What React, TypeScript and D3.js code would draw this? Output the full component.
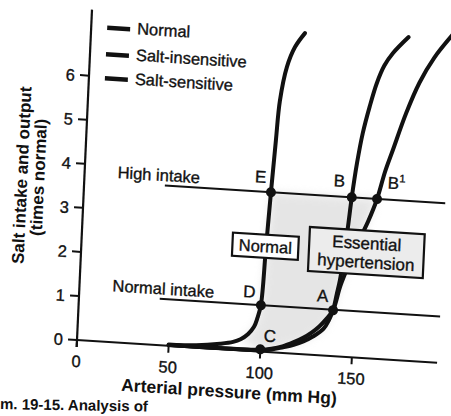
import React from "react";
import * as d3 from "d3";

const W = 451;
const H = 416;

// ---------- data ----------
const pressureTicks = [0, 50, 100, 150];
const saltTicks = [0, 1, 2, 3, 4, 5, 6];
const legendLabels = ["Normal", "Salt-insensitive", "Salt-sensitive"];

const normalPressure = [50, 65, 78, 85, 89, 93, 96, 97.6, 99.2, 100.5, 101.9, 103.3, 104.5, 107.5, 111.4, 116.5];
const normalSalt = [0.03, 0.05, 0.12, 0.18, 0.25, 0.38, 0.55, 0.75, 1.05, 2.3, 3.62, 4.8, 5.7, 6.48, 6.94, 7.27];

const insensitivePressure = [50, 90, 100, 106, 112.3, 118, 123.2, 128.5, 133.8, 136.5, 138.6, 140.2, 141.6, 143.3, 144.7, 146, 148, 150.4, 153.5, 156.8, 160.5, 164.8, 173];
const insensitiveSalt = [0.02, 0.02, 0.03, 0.06, 0.13, 0.2, 0.29, 0.42, 0.6, 0.8, 1.04, 1.4, 1.73, 2.35, 2.97, 3.62, 4.4, 5.09, 5.7, 6.24, 6.65, 6.94, 7.33];

const sensitivePressure = [50, 95, 100, 106, 112, 118, 123, 127.5, 131.5, 135, 138.6, 142, 147, 151.5, 155.5, 159.8, 163.5, 167.2, 173.5, 180, 187.5, 197];
const sensitiveSalt = [0.02, 0.03, 0.04, 0.08, 0.15, 0.26, 0.37, 0.5, 0.65, 0.82, 1.04, 1.6, 2.2, 2.7, 3.1, 3.62, 4.25, 4.75, 5.6, 6.31, 6.9, 7.45];

const intakeLabels = ["High intake", "Normal intake"];
const intakeLevels = [3.62, 1.05];
const intakeRange = [44, 197];

const pointLabels = ["E", "D", "C", "A", "B", "B"];
const pointPressure = [101.9, 99.2, 100, 138.6, 146, 159.8];
const pointSalt = [3.62, 1.05, 0.05, 1.04, 3.62, 3.62];

const boxLabels = [["Normal"], ["Essential", "hypertension"]];
const boxPressure = [100.2, 155.3];
const boxSalt = [2.39, 2.39];

const xTitle = "Arterial pressure (mm Hg)";
const yTitle = ["Salt intake and output", "(times normal)"];
const caption = "m. 19-15. Analysis of";

// ---------- layout ----------
const FONT = "'Liberation Sans', Arial, Helvetica, sans-serif";
const INK = "#111";
const TXT = { stroke: INK, strokeWidth: 0.35 };

const x = d3.scaleLinear().domain([0, 200]).range([0, 367.2]);
const y = d3.scaleLinear().domain([0, 7.5]).range([0, -330.75]);

const zip = (a: number[], b: number[]) => a.map((v, i) => [v, b[i]] as [number, number]);

const curveLine = d3
  .line<[number, number]>()
  .x((d) => x(d[0]))
  .y((d) => y(d[1]))
  .curve(d3.curveCatmullRom.alpha(0.5));

const polyLine = d3
  .line<[number, number]>()
  .x((d) => x(d[0]))
  .y((d) => y(d[1]))
  .curve(d3.curveLinear);

const normalPts = zip(normalPressure, normalSalt);
const insensitivePts = zip(insensitivePressure, insensitiveSalt);
const sensitivePts = zip(sensitivePressure, sensitiveSalt);

const shadePts: [number, number][] = [
  ...normalPts.filter((d) => d[0] >= 89 && d[1] <= 3.62),
  ...sensitivePts.filter((d) => d[1] >= 1.04 && d[1] <= 3.62).reverse(),
  ...insensitivePts.filter((d) => d[1] < 1.04 && d[0] >= 100).reverse(),
];

// label offsets (px, local frame) for each lettered point
const labelOffsets = [
  [-11, -9, "middle"],
  [-12, -7, "middle"],
  [9, -8, "middle"],
  [-11, -8, "middle"],
  [-13, -10, "middle"],
  [10, -11, "start"],
];

const boxSizes = [
  [66, 23],
  [115, 44],
];
const boxFills = ["#ffffff", "#ececec"];

export default function App() {
  const curves = [normalPts, insensitivePts, sensitivePts];
  const legendRows = [-313.5, -287, -263];

  return (
    <div style={{ position: "absolute", left: 0, top: 0 }}>
      <svg width={W} height={H} viewBox={`0 0 ${W} ${H}`} style={{ display: "block", background: "#fff" }}>
        <defs>
          <filter id="soft" x="-20%" y="-20%" width="140%" height="140%">
            <feGaussianBlur stdDeviation="4" />
          </filter>
        </defs>
        <g transform="matrix(0.99803,0.06279,-0.04536,0.99897,77,340)" fontFamily={FONT} fill={INK}>
          {/* shading */}
          <path d={polyLine(shadePts) + "Z"} fill="#cccccc" opacity={0.5} filter="url(#soft)" />

          {/* axes */}
          <line x1={x(0)} x2={x(196.5)} y1={0} y2={0} stroke={INK} strokeWidth={2} />
          <line x1={0} x2={0} y1={7} y2={y(7.5)} stroke={INK} strokeWidth={2.2} />
          {pressureTicks.map((t) => (
            <g key={"xt" + t}>
              <line x1={x(t)} x2={x(t)} y1={0} y2={7} stroke={INK} strokeWidth={2} />
              <text x={x(t)} y={27} textAnchor="middle" fontSize={16.5} {...TXT}>
                {t}
              </text>
            </g>
          ))}
          {saltTicks.map((t) => (
            <g key={"yt" + t}>
              <line x1={-9} x2={0} y1={y(t)} y2={y(t)} stroke={INK} strokeWidth={2} />
              <text x={-14} y={y(t) + 6} textAnchor="end" fontSize={16.5} {...TXT}>
                {t}
              </text>
            </g>
          ))}

          {/* axis titles */}
          <text x={x(84)} y={48} textAnchor="middle" fontSize={17.5} fontWeight="bold">
            {xTitle}
          </text>
          {yTitle.map((s, i) => (
            <text
              key={s}
              transform={`translate(${i === 0 ? -57 : -40},${-161 + i}) rotate(-90)`}
              textAnchor="middle"
              fontSize={17}
              fontWeight="bold"
            >
              {s}
            </text>
          ))}

          {/* intake lines */}
          {intakeLevels.map((lv, i) => (
            <g key={"in" + i}>
              <line x1={x(intakeRange[0])} x2={x(intakeRange[1])} y1={y(lv)} y2={y(lv)} stroke={INK} strokeWidth={2} />
              <text x={33} y={y(lv) - 4.5} fontSize={16.5} {...TXT}>
                {intakeLabels[i]}
              </text>
            </g>
          ))}

          {/* curves */}
          {curves.map((pts, i) => (
            <path key={"c" + i} d={curveLine(pts) || ""} fill="none" stroke={INK} strokeWidth={4} strokeLinecap="round" />
          ))}

          {/* boxes */}
          {boxLabels.map((lines, i) => {
            const cx = x(boxPressure[i]);
            const cy = y(boxSalt[i]);
            const [bw, bh] = boxSizes[i];
            return (
              <g key={"b" + i}>
                <rect x={cx - bw / 2} y={cy - bh / 2} width={bw} height={bh} fill={boxFills[i]} stroke={INK} strokeWidth={2.2} />
                {lines.map((s, j) => (
                  <text
                    key={s}
                    x={cx}
                    y={lines.length === 1 ? cy + 6 : cy + (j === 0 ? -3.5 : 15.5)}
                    textAnchor="middle"
                    fontSize={lines.length === 1 ? 16.5 : 17}
                    {...TXT}
                  >
                    {s}
                  </text>
                ))}
              </g>
            );
          })}

          {/* points */}
          {pointLabels.map((lab, i) => {
            const px = x(pointPressure[i]);
            const py = y(pointSalt[i]);
            const [dx, dy, anchor] = labelOffsets[i] as [number, number, string];
            return (
              <g key={"p" + i}>
                <circle cx={px} cy={py} r={5} fill={INK} />
                <text x={px + dx} y={py + dy} textAnchor={anchor as any} fontSize={17} {...TXT}>
                  {lab}
                  {i === 5 ? (
                    <tspan fontSize={11} dy={-7}>
                      1
                    </tspan>
                  ) : null}
                </text>
              </g>
            );
          })}

          {/* legend */}
          {legendLabels.map((s, i) => (
            <g key={"lg" + i}>
              <line x1={16} x2={39} y1={legendRows[i]} y2={legendRows[i]} stroke={INK} strokeWidth={4.5} />
              <text x={46} y={legendRows[i] + 4.5} fontSize={16.5} {...TXT}>
                {s}
              </text>
            </g>
          ))}
        </g>

        {/* caption fragment (page text below the figure) */}
        <text
          transform="translate(0,409) rotate(1)"
          fontFamily={FONT}
          fontSize={15}
          fontWeight="bold"
          fill={INK}
        >
          {caption}
        </text>
      </svg>
    </div>
  );
}
